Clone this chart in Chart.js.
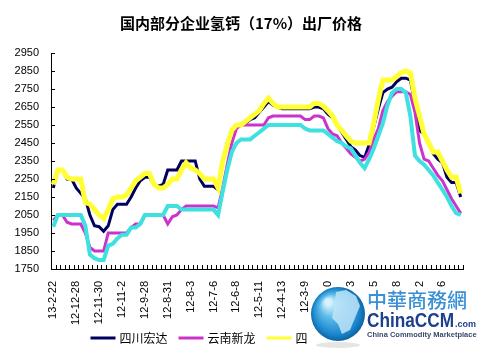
<!DOCTYPE html>
<html>
<head>
<meta charset="utf-8">
<script src="https://cdn.jsdelivr.net/npm/chart.js@4.4.1/dist/chart.umd.min.js"></script>
<style>
html,body{margin:0;padding:0;background:#fff;}
#wrap{width:486px;height:356px;position:relative;}
</style>
</head>
<body>
<div id="wrap"><canvas id="c" width="486" height="356"></canvas></div>
<script>
const chartTitle = '国内部分企业氢钙（17%）出厂价格';
const seriesNames = ['四川宏达', '云南新龙', '四川金路', '贵州瓮福'];
const tickLabels = ['13-2-22','12-12-28','12-11-30','12-11-2','12-9-28','12-8-31','12-8-3','12-7-6','12-6-8','12-5-11','12-4-13','12-3-9','12-2-10','12-1-13','11-12-15','11-11-18','11-10-22','11-9-26'];
const yTicks = {min: 1750, max: 2950, step: 100};

const sichuanHongda = [
2200,2300,2300,2250,2250,2200,2170,2140,2050,1990,
1985,1960,1990,2080,2110,2110,2110,2150,2200,2240,
2260,2260,2220,2210,2220,2300,2300,2300,2350,2350,
2350,2350,2250,2210,2210,2210,2190,2350,2450,2520,
2550,2550,2560,2580,2590,2620,2650,2680,2660,2650,
2640,2640,2640,2640,2640,2640,2640,2650,2650,2640,
2610,2590,2550,2510,2470,2430,2410,2380,2370,2440,
2540,2640,2730,2750,2760,2790,2810,2810,2800,2670,
2520,2500,2450,2390,2360,2340,2260,2230,2230,2150];

const yunnanXinlong = [
2020,2050,2050,2010,2000,2000,2000,1950,1870,1850,
1850,1850,1950,1950,1950,1950,1950,1980,2000,2000,
2050,2050,2050,2050,2050,2000,2040,2050,2080,2100,
2100,2100,2100,2100,2100,2100,2090,2200,2330,2450,
2530,2550,2550,2550,2550,2550,2550,2590,2600,2600,
2600,2600,2600,2600,2600,2580,2580,2600,2600,2590,
2530,2500,2490,2450,2420,2390,2370,2350,2360,2400,
2470,2530,2630,2680,2710,2735,2735,2735,2720,2620,
2450,2360,2350,2310,2270,2240,2190,2140,2100,2060];

const sichuanJinlu = [
2220,2300,2300,2260,2250,2250,2250,2120,2110,2080,
2050,2030,2080,2140,2150,2150,2160,2200,2240,2260,
2280,2280,2220,2200,2200,2220,2250,2250,2300,2340,
2310,2300,2280,2250,2250,2250,2200,2350,2440,2520,
2550,2550,2570,2590,2610,2630,2670,2700,2670,2650,
2650,2650,2650,2650,2650,2650,2650,2670,2670,2655,
2630,2600,2550,2520,2490,2460,2450,2450,2450,2450,
2560,2690,2800,2800,2800,2820,2840,2850,2840,2700,
2600,2500,2450,2400,2400,2350,2300,2260,2260,2170];

const guizhouWengfu = [
1985,2050,2050,2050,2050,2050,2050,1990,1830,1810,
1800,1800,1880,1890,1920,1940,1940,1980,1980,2000,
2050,2050,2050,2050,2050,2100,2100,2100,2080,2080,
2080,2080,2080,2080,2080,2080,2050,2180,2300,2400,
2450,2470,2470,2470,2490,2510,2530,2550,2550,2550,
2550,2550,2550,2550,2550,2530,2520,2520,2520,2520,
2500,2480,2460,2450,2430,2420,2380,2340,2310,2360,
2420,2490,2560,2660,2730,2750,2750,2730,2600,2380,
2350,2330,2300,2270,2230,2190,2150,2100,2060,2050];

const seriesColors = ['#000060', '#cc33cc', '#ffff33', '#3ee0e0'];
const seriesWidths = [3, 3, 5, 4];

const categories = Array.from({length: sichuanHongda.length}, (_, i) => i % 5 === 0 ? tickLabels[i / 5] : '');
const seriesData = [sichuanHongda, yunnanXinlong, sichuanJinlu, guizhouWengfu];

const decorPlugin = {
  id: 'decor',
  afterDraw(chart) {
    const ctx = chart.ctx;
    const xs = chart.scales.x, ys = chart.scales.y;
    const area = chart.chartArea;
    ctx.save();
    // inside tick marks
    ctx.strokeStyle = '#000';
    ctx.lineWidth = 1;
    ctx.beginPath();
    for (let i = 0; i <= categories.length; i++) {
      const px = Math.round(xs.getPixelForValue(i - 0.5)) + 0.5;
      ctx.moveTo(px, area.bottom);
      ctx.lineTo(px, area.bottom - 4);
    }
    for (let v = yTicks.min; v <= yTicks.max; v += yTicks.step) {
      const py = Math.round(ys.getPixelForValue(v)) + 0.5;
      ctx.moveTo(area.left, py);
      ctx.lineTo(area.left + 4, py);
    }
    ctx.stroke();

    // title
    ctx.fillStyle = '#000';
    ctx.font = 'bold 15px "Noto Sans CJK SC"';
    ctx.textAlign = 'center';
    ctx.textBaseline = 'middle';
    ctx.fillText(chartTitle, 241, 23);

    // legend
    ctx.font = '12px "Noto Sans CJK SC"';
    ctx.textAlign = 'left';
    const items = chart.data.datasets.map(ds => ({label: ds.label, color: ds.borderColor, w: ctx.measureText(ds.label).width}));
    const lineLen = 25, gapText = 4, gapItem = 11;
    let total = 0;
    items.forEach((it, k) => { total += lineLen + gapText + it.w + (k < items.length - 1 ? gapItem : 0); });
    let cx = (area.left + area.right) / 2 + 4 - total / 2;
    const ly = 338;
    items.forEach(it => {
      ctx.strokeStyle = it.color;
      ctx.lineWidth = 3;
      ctx.beginPath();
      ctx.moveTo(cx, ly);
      ctx.lineTo(cx + lineLen, ly);
      ctx.stroke();
      ctx.fillStyle = '#000';
      ctx.fillText(it.label, cx + lineLen + gapText, ly);
      cx += lineLen + gapText + it.w + gapItem;
    });

    // watermark logo
    ctx.fillStyle = '#ffffff';
    ctx.fillRect(308, 287, 178, 69);
    const g = ctx.createRadialGradient(328, 302, 3, 338, 314, 28);
    g.addColorStop(0, '#d8f2fd');
    g.addColorStop(0.35, '#5bbbe9');
    g.addColorStop(0.8, '#1a86cc');
    g.addColorStop(1, '#0b5c9e');
    ctx.fillStyle = g;
    ctx.beginPath();
    ctx.arc(338, 314, 27, 0, Math.PI * 2);
    ctx.fill();
    ctx.fillStyle = 'rgba(190,228,248,0.85)';
    ctx.beginPath();
    ctx.moveTo(336, 292); ctx.lineTo(346, 290); ctx.lineTo(356, 296);
    ctx.lineTo(360, 306); ctx.lineTo(355, 318); ctx.lineTo(350, 330);
    ctx.lineTo(342, 334); ctx.lineTo(338, 324); ctx.lineTo(332, 318);
    ctx.lineTo(334, 306); ctx.closePath();
    ctx.fill();
    ctx.fillStyle = 'rgba(150,150,150,0.25)';
    ctx.beginPath();
    ctx.ellipse(338, 345, 22, 3, 0, 0, Math.PI * 2);
    ctx.fill();

    ctx.textBaseline = 'alphabetic';
    ctx.fillStyle = '#3a90d4';
    ctx.font = '500 20px "Noto Sans CJK TC"';
    ctx.fillText('中華商務網', 367, 308);
    ctx.fillStyle = '#1d3f8c';
    ctx.save();
    ctx.translate(367, 327);
    ctx.scale(0.82, 1);
    ctx.font = 'bold 21px "Liberation Sans"';
    ctx.fillText('ChinaCCM', 0, 0);
    const cw = ctx.measureText('ChinaCCM').width;
    ctx.restore();
    ctx.font = 'bold 9px "Liberation Sans"';
    ctx.fillText('.com', 367 + cw * 0.82 + 1, 327);
    ctx.font = 'bold 7.5px "Liberation Sans"';
    ctx.fillStyle = '#3a4a6a';
    ctx.fillText('China Commodity Marketplace', 367, 337);
    ctx.restore();
  }
};

new Chart(document.getElementById('c'), {
  type: 'line',
  data: {
    labels: categories,
    datasets: seriesData.map((d, k) => ({
      label: seriesNames[k],
      data: d,
      borderColor: seriesColors[k],
      backgroundColor: seriesColors[k],
      borderWidth: seriesWidths[k],
      pointRadius: 0,
      tension: 0,
      fill: false,
      order: 4 - k
    }))
  },
  options: {
    responsive: false,
    animation: false,
    devicePixelRatio: 1,
    layout: {padding: {top: 53, right: 13, bottom: 0, left: 0}},
    plugins: {legend: {display: false}, title: {display: false}, tooltip: {enabled: false}},
    scales: {
      x: {
        type: 'category',
        offset: true,
        grid: {display: false, drawTicks: false, offset: true},
        border: {display: true, color: '#000', width: 1},
        ticks: {
          autoSkip: false, maxRotation: 90, minRotation: 90, padding: 12,
          color: '#000', font: {family: '"Liberation Sans"', size: 11}
        },
        afterFit(s) { s.height = 87; }
      },
      y: {
        min: yTicks.min, max: yTicks.max,
        grid: {display: false, drawTicks: false},
        border: {display: true, color: '#000', width: 1},
        ticks: {
          stepSize: yTicks.step, padding: 12, color: '#000',
          font: {family: '"Liberation Sans"', size: 11},
          callback: v => String(v)
        },
        afterFit(s) { s.width = 51; }
      }
    }
  },
  plugins: [decorPlugin]
});
</script>
</body>
</html>
